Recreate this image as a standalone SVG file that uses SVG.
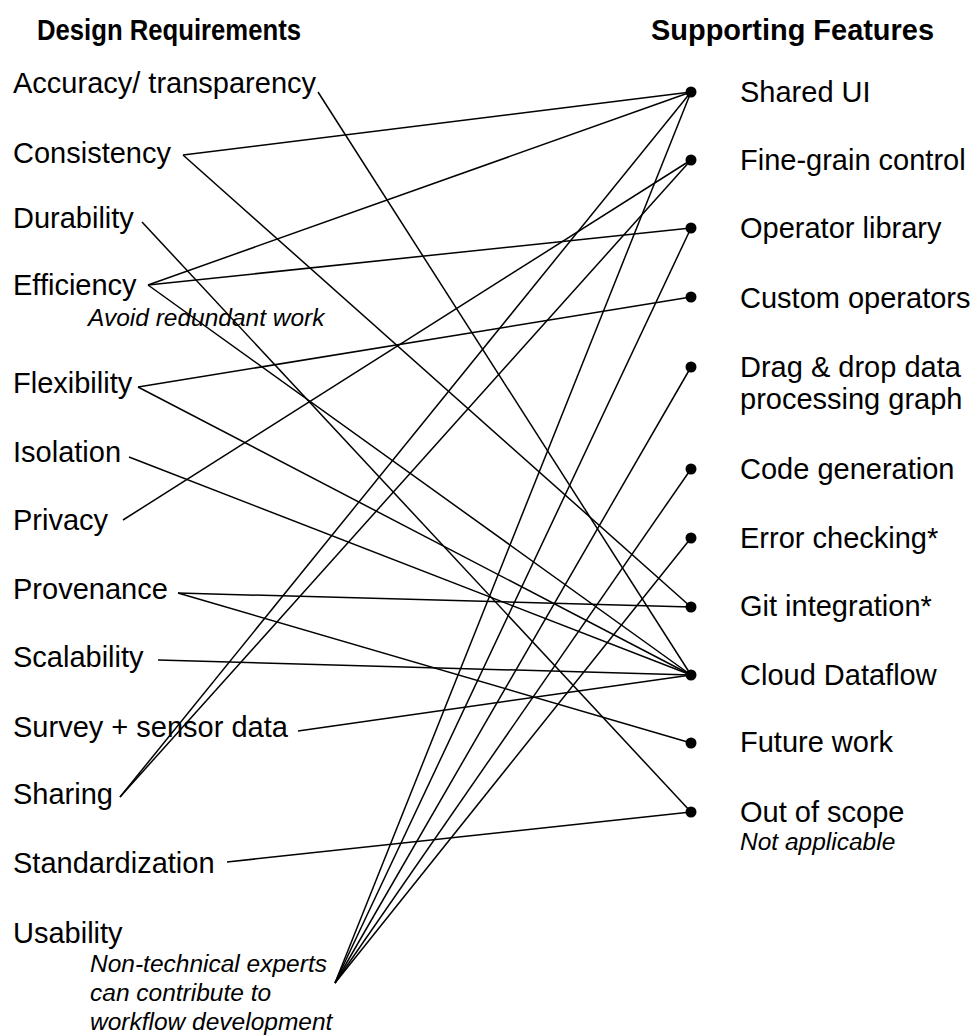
<svg xmlns="http://www.w3.org/2000/svg" width="974" height="1036" viewBox="0 0 974 1036">
  <style>
    .head { font-family: "Liberation Sans", Arial, sans-serif; font-size: 29px; font-weight: bold; fill: #000; }
    .lbl { font-family: "Liberation Sans", Arial, sans-serif; font-size: 29px; fill: #000; }
    .note { font-family: "Liberation Sans", Arial, sans-serif; font-size: 24.5px; font-style: italic; fill: #000; }
    .dot { fill: #000; }
    #connectors line { stroke: #000; stroke-width: 1.5; fill: none; }
  </style>
  <rect width="974" height="1036" fill="#fff"/>

  <!-- column headings -->
  <g id="headings">
    <text class="head" x="37" y="40" textLength="264" lengthAdjust="spacingAndGlyphs">Design Requirements</text>
    <text class="head" x="651" y="40" textLength="283" lengthAdjust="spacingAndGlyphs">Supporting Features</text>
  </g>

  <!-- requirements (left column) -->
  <g id="req-accuracy"><text class="lbl" x="13" y="93">Accuracy/ transparency</text></g>
  <g id="req-consistency"><text class="lbl" x="13" y="163">Consistency</text></g>
  <g id="req-durability"><text class="lbl" x="13" y="228">Durability</text></g>
  <g id="req-efficiency">
    <text class="lbl" x="13" y="295">Efficiency</text>
    <text class="note" x="88" y="326">Avoid redundant work</text>
  </g>
  <g id="req-flexibility"><text class="lbl" x="13" y="393">Flexibility</text></g>
  <g id="req-isolation"><text class="lbl" x="13" y="462">Isolation</text></g>
  <g id="req-privacy"><text class="lbl" x="13" y="530">Privacy</text></g>
  <g id="req-provenance"><text class="lbl" x="13" y="599">Provenance</text></g>
  <g id="req-scalability"><text class="lbl" x="13" y="667">Scalability</text></g>
  <g id="req-survey"><text class="lbl" x="13" y="737">Survey + sensor data</text></g>
  <g id="req-sharing"><text class="lbl" x="13" y="804">Sharing</text></g>
  <g id="req-standardization"><text class="lbl" x="13" y="873">Standardization</text></g>
  <g id="req-usability">
    <text class="lbl" x="13" y="943">Usability</text>
    <text class="note" x="90" y="972">Non-technical experts</text>
    <text class="note" x="90" y="1001">can contribute to</text>
    <text class="note" x="90" y="1030">workflow development</text>
  </g>

  <!-- features (right column) -->
  <g id="feat-shared-ui"><circle class="dot" cx="691" cy="92" r="5.5"/><text class="lbl" x="740" y="102">Shared UI</text></g>
  <g id="feat-fine-grain"><circle class="dot" cx="691" cy="160" r="5.5"/><text class="lbl" x="740" y="170">Fine-grain control</text></g>
  <g id="feat-operator-library"><circle class="dot" cx="691" cy="228" r="5.5"/><text class="lbl" x="740" y="238">Operator library</text></g>
  <g id="feat-custom-operators"><circle class="dot" cx="691" cy="297" r="5.5"/><text class="lbl" x="740" y="308">Custom operators</text></g>
  <g id="feat-drag-drop">
    <circle class="dot" cx="691" cy="367" r="5.5"/>
    <text class="lbl" x="740" y="377">Drag &amp; drop data</text>
    <text class="lbl" x="740" y="409">processing graph</text>
  </g>
  <g id="feat-code-generation"><circle class="dot" cx="691" cy="469" r="5.5"/><text class="lbl" x="740" y="479">Code generation</text></g>
  <g id="feat-error-checking"><circle class="dot" cx="691" cy="538" r="5.5"/><text class="lbl" x="740" y="548">Error checking*</text></g>
  <g id="feat-git"><circle class="dot" cx="691" cy="607" r="5.5"/><text class="lbl" x="740" y="616">Git integration*</text></g>
  <g id="feat-cloud-dataflow"><circle class="dot" cx="691" cy="675" r="5.5"/><text class="lbl" x="740" y="685">Cloud Dataflow</text></g>
  <g id="feat-future-work"><circle class="dot" cx="691" cy="743" r="5.5"/><text class="lbl" x="740" y="752">Future work</text></g>
  <g id="feat-out-of-scope">
    <circle class="dot" cx="691" cy="812" r="5.5"/>
    <text class="lbl" x="740" y="822">Out of scope</text>
    <text class="note" x="740" y="850">Not applicable</text>
  </g>

  <!-- requirement-to-feature links -->
  <g id="connectors">
    <line x1="318" y1="92" x2="691" y2="675"/>
    <line x1="183" y1="155" x2="691" y2="92"/>
    <line x1="183" y1="155" x2="691" y2="607"/>
    <line x1="142" y1="222" x2="691" y2="812"/>
    <line x1="148" y1="285" x2="691" y2="92"/>
    <line x1="148" y1="285" x2="691" y2="228"/>
    <line x1="148" y1="285" x2="691" y2="675"/>
    <line x1="138" y1="387" x2="691" y2="297"/>
    <line x1="138" y1="387" x2="691" y2="675"/>
    <line x1="129" y1="457" x2="691" y2="675"/>
    <line x1="123" y1="520" x2="691" y2="160"/>
    <line x1="178" y1="593" x2="691" y2="607"/>
    <line x1="178" y1="593" x2="691" y2="743"/>
    <line x1="158" y1="660" x2="691" y2="675"/>
    <line x1="298" y1="731" x2="691" y2="675"/>
    <line x1="120" y1="797" x2="691" y2="92"/>
    <line x1="120" y1="797" x2="691" y2="160"/>
    <line x1="227" y1="862" x2="691" y2="812"/>
    <line x1="335" y1="983" x2="691" y2="92"/>
    <line x1="335" y1="983" x2="691" y2="228"/>
    <line x1="335" y1="983" x2="691" y2="367"/>
    <line x1="335" y1="983" x2="691" y2="469"/>
    <line x1="335" y1="983" x2="691" y2="538"/>
  </g>
</svg>
